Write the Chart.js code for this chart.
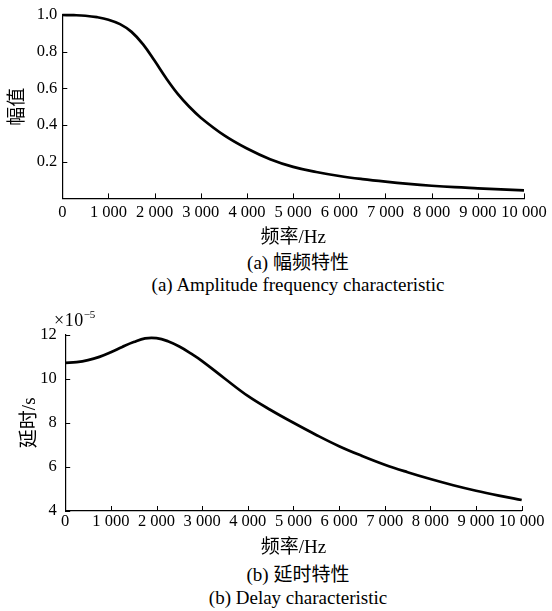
<!DOCTYPE html>
<html>
<head>
<meta charset="utf-8">
<script src="https://cdn.jsdelivr.net/npm/chart.js@4.4.1/dist/chart.umd.min.js"></script>
<style>
  html, body { margin:0; padding:0; background:#fff; }
  #wrap { position:relative; width:552px; height:611px; background:#fff; overflow:hidden;
          font-family:"Liberation Serif","Noto Sans CJK SC",serif; color:#000; }
  canvas { position:absolute; left:0; }
  .cap { position:absolute; left:0; width:596px; text-align:center; font-size:19px; line-height:22px; white-space:nowrap; }
  #exp { position:absolute; left:54px; top:304px; font-size:18px; line-height:22px; white-space:nowrap; letter-spacing:0.5px; }
  #exp sup { font-size:11px; position:relative; top:-1px; letter-spacing:0; }
</style>
</head>
<body>
<div id="wrap">
  <canvas id="c1" width="552" height="250" style="top:0"></canvas>
  <canvas id="c2" width="552" height="260" style="top:300px"></canvas>
  <div class="cap" style="top:252px">(a) 幅频特性</div>
  <div class="cap" style="top:274px">(a) Amplitude frequency characteristic</div>
  <div id="exp">×10<sup>−5</sup></div>
  <div class="cap" style="top:564px">(b) 延时特性</div>
  <div class="cap" style="top:587px">(b) Delay characteristic</div>
</div>
<script>
// ---- data ----
const freq = [0,250,500,750,1000,1250,1500,1750,2000,2250,2500,2750,3000,3500,4000,4500,5000,5500,6000,6500,7000,7500,8000,8500,9000,9500,10000];
const amplitude = [1.000,0.999,0.996,0.988,0.974,0.950,0.908,0.840,0.750,0.655,0.570,0.500,0.440,0.345,0.272,0.214,0.172,0.144,0.122,0.105,0.091,0.079,0.069,0.061,0.055,0.049,0.044];
const delay = [10.72,10.75,10.84,10.99,11.20,11.44,11.66,11.83,11.84,11.70,11.46,11.15,10.80,10.00,9.22,8.58,8.00,7.45,6.94,6.50,6.10,5.76,5.45,5.17,4.92,4.70,4.50];
const xTicks = [0,1000,2000,3000,4000,5000,6000,7000,8000,9000,10000];
const ampTicks = [0.2,0.4,0.6,0.8,1.0];
const delayTicks = [4,6,8,10,12];

const LATIN = 'Liberation Serif, Times New Roman, serif';
const MIXED = 'Liberation Serif, Noto Sans CJK SC, serif';
Chart.defaults.font.family = LATIN;
Chart.defaults.color = '#000';

function fmtThousands(v){ return String(v).replace(/\B(?=(\d{3})+(?!\d))/g, ' '); }

const inwardTicks = {
  id:'inwardTicks',
  afterDatasetsDraw(chart){
    const {ctx, chartArea:a, scales:{x,y}} = chart;
    ctx.save(); ctx.strokeStyle='#000'; ctx.lineWidth=1;
    x.ticks.forEach((t,i)=>{ const p=Math.round(x.getPixelForTick(i))+0.5;
      ctx.beginPath(); ctx.moveTo(p,a.bottom); ctx.lineTo(p,a.bottom-5); ctx.stroke(); });
    y.ticks.forEach((t,i)=>{ const p=Math.round(y.getPixelForTick(i))+0.5;
      ctx.beginPath(); ctx.moveTo(a.left,p); ctx.lineTo(a.left+5,p); ctx.stroke(); });
    ctx.restore();
  }
};

function makeChart(id, ys, cfg){
  return new Chart(document.getElementById(id), {
    type:'line',
    data:{ datasets:[{ data: freq.map((f,i)=>({x:f,y:ys[i]})), borderColor:'#000', borderWidth:2.7,
      pointRadius:0, tension:0.4, fill:false, clip:false }]},
    options:{
      responsive:false, animation:false, devicePixelRatio:1,
      layout:{ padding: cfg.padding },
      plugins:{ legend:{display:false}, tooltip:{enabled:false} },
      scales:{
        x:{ type:'linear', min:0, max:10000,
          afterBuildTicks(s){ s.ticks = xTicks.map(v=>({value:v})); },
          afterFit(s){ s.height = cfg.xh; },
          grid:{ display:false, drawTicks:false }, border:{ display:true, color:'#000', width:1.2 },
          ticks:{ padding: cfg.xpad, font:{family:LATIN, size:16.5}, color:'#000', maxRotation:0, autoSkip:false, callback:v=>fmtThousands(v) },
          title:{ display:true, text:'频率/Hz', color:'#000', font:{family:MIXED, size:19}, padding:{top:0,bottom:cfg.xtpb} } },
        y:{ type:'linear', min:cfg.ymin, max:cfg.ymax,
          afterBuildTicks(s){ s.ticks = cfg.yTicks.map(v=>({value:v})); },
          afterFit(s){ s.width = cfg.yw; },
          grid:{ display:false, drawTicks:false }, border:{ display:true, color:'#000', width:1.2 },
          ticks:{ padding: cfg.ypad, font:{family:LATIN, size:16.5}, color:'#000', autoSkip:false, callback: cfg.yfmt },
          title:{ display:true, text: cfg.ytitle, color:'#000', font:{family:MIXED, size:19}, padding:{top:cfg.ytpt,bottom:0} } }
      }
    },
    plugins:[inwardTicks]
  });
}

makeChart('c1', amplitude, { padding:{top:15,right:28,left:0,bottom:0}, xh:51.6, yw:62.3, xpad:4, ypad:5,
  ymin:0, ymax:1, yTicks:ampTicks, yfmt:v=>v.toFixed(1), ytitle:'幅值', ytpt:6.6, xtpb:1 });
makeChart('c2', delay, { padding:{top:34.6,right:30.3,left:0,bottom:0}, xh:49, yw:65.2, xpad:1, ypad:8.5,
  ymin:4, ymax:12, yTicks:delayTicks, yfmt:v=>String(v), ytitle:'延时/s', ytpt:18.6, xtpb:0.3 });
</script>
</body>
</html>
